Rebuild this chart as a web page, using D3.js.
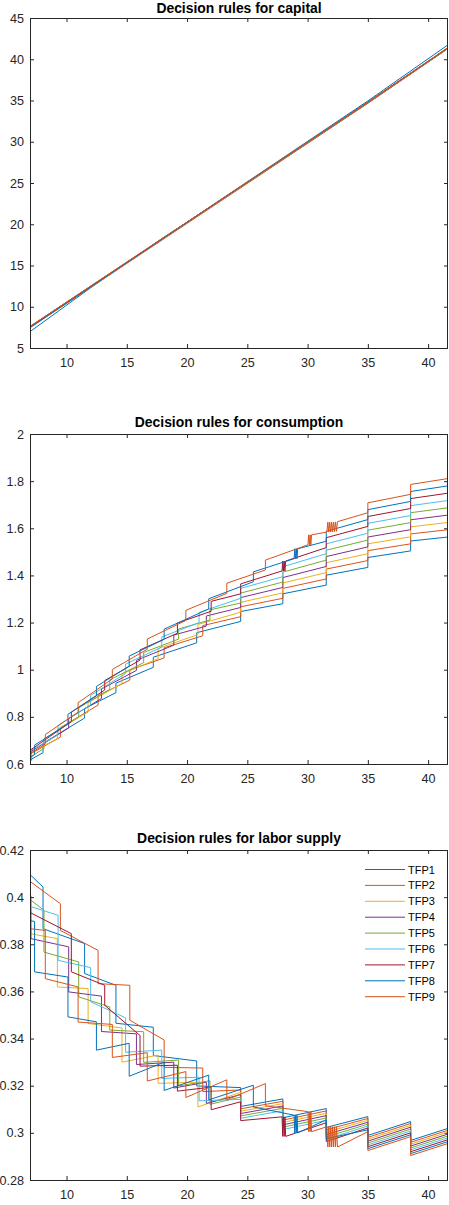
<!DOCTYPE html>
<html>
<head>
<meta charset="utf-8">
<script src="https://cdn.jsdelivr.net/npm/d3@7"></script>
<style>
  body { margin: 0; background: #fff; }
  svg text { font-family: "Liberation Sans", Arial, Helvetica, sans-serif; }
</style>
</head>
<body>
<div id="fig"></div>
<script>
// ---------------------------//
//        DATA                //
// ---------------------------//

var seriesNames = ["TFP1", "TFP2", "TFP3", "TFP4", "TFP5", "TFP6", "TFP7", "TFP8", "TFP9"];
var kDomain = [6.97, 41.65];
var kTicks = [10, 15, 20, 25, 30, 35, 40];
var capTicks = [5, 10, 15, 20, 25, 30, 35, 40, 45];
var consTicks = [0.6, 0.8, 1, 1.2, 1.4, 1.6, 1.8, 2];
var laborTicks = [0.28, 0.3, 0.32, 0.34, 0.36, 0.38, 0.4, 0.42];

// capital: [k, k']
var capTFP1 = [[6.97, 6.98], [12, 12.3], [18, 18.35], [25, 25.0], [35, 34.7], [41.65, 41.3]];
var capTFP2 = [[6.97, 7.45], [15, 15.25], [25, 24.95], [35, 34.65], [41.65, 41.3]];
var capTFP3 = [[6.97, 7.5], [15, 15.3], [25, 25.0], [35, 34.7], [41.65, 41.32]];
var capTFP4 = [[6.97, 7.52], [15, 15.32], [25, 25.02], [35, 34.72], [41.65, 41.34]];
var capTFP5 = [[6.97, 7.55], [15, 15.35], [25, 25.05], [35, 34.75], [41.65, 41.36]];
var capTFP6 = [[6.97, 7.57], [15, 15.37], [25, 25.07], [35, 34.78], [41.65, 41.38]];
var capTFP7 = [[6.97, 7.6], [15, 15.4], [25, 25.1], [35, 34.8], [41.65, 41.4]];
var capTFP8 = [[6.97, 7.5], [15, 15.35], [25, 25.15], [35, 34.95], [41.65, 41.75]];
var capTFP9 = [[6.97, 7.62], [15, 15.42], [25, 25.12], [35, 34.82], [41.65, 41.42]];

// consumption: [k, value before step, value after step]
var consTFP1 = [[6.97,.617,.617],[8.05,.648,.688],[11.5,.795,.835],[14.1,.903,.943],[17.2,1.010,1.053],[20.8,1.114,1.157],[24.45,1.205,1.247],[27.95,1.280,1.322],[31.55,1.359,1.401],[35,1.434,1.476],[38.55,1.504,1.546],[41.65,1.563,1.563]];
var consTFP2 = [[6.97,.642,.642],[9.49,.714,.754],[12.62,.850,.890],[15.25,.956,.999],[18.1,1.050,1.093],[21.3,1.144,1.187],[24.45,1.225,1.267],[27.95,1.303,1.345],[31.55,1.385,1.427],[35,1.463,1.505],[38.55,1.534,1.576],[41.65,1.594,1.594]];
var consTFP3 = [[6.97,.646,.646],[9.24,.708,.748],[11.79,.820,.860],[14.6,.942,.982],[17.6,1.047,1.090],[20.9,1.149,1.192],[24.45,1.244,1.286],[27.95,1.326,1.368],[31.55,1.412,1.454],[35,1.492,1.534],[38.55,1.564,1.606],[41.65,1.625,1.625]];
var consTFP4 = [[6.97,.610,.610],[7.05,.613,.653],[10.18,.753,.793],[12.9,.878,.918],[15.8,.997,1.040],[18.9,1.104,1.147],[21.6,1.185,1.228],[24.45,1.264,1.306],[27.95,1.349,1.391],[31.55,1.438,1.480],[35,1.521,1.563],[38.55,1.594,1.636],[41.65,1.656,1.656]];
var consTFP5 = [[6.97,.629,.629],[8.13,.666,.706],[11.01,.798,.838],[13.59,.917,.957],[16.4,1.030,1.073],[19.3,1.130,1.173],[21.9,1.211,1.254],[24.45,1.283,1.325],[27.95,1.372,1.414],[31.55,1.465,1.507],[35,1.550,1.592],[38.55,1.624,1.666],[41.65,1.687,1.687]];
var consTFP6 = [[6.97,.655,.655],[9.3,.724,.764],[12.0,.851,.891],[14.9,.984,1.024],[17.9,1.096,1.139],[21.0,1.200,1.243],[24.45,1.303,1.345],[27.95,1.395,1.437],[31.55,1.492,1.534],[35,1.579,1.621],[38.55,1.654,1.696],[41.65,1.718,1.718]];
var consTFP7 = [[6.97,.658,.658],[10.4,.780,.820],[13.17,.914,.954],[16.1,1.041,1.084],[19.2,1.155,1.198],[22.0,1.248,1.290],[24.45,1.322,1.364],[27.88,1.419,1.419],[27.94,1.461,1.461],[28.0,1.419,1.419],[28.06,1.461,1.461],[28.12,1.419,1.419],[28.18,1.461,1.461],[31.55,1.518,1.560],[35,1.608,1.650],[38.55,1.684,1.726],[41.65,1.749,1.749]];
var consTFP8 = [[6.97,.627,.627],[7.35,.640,.680],[10.12,.771,.811],[12.48,.889,.929],[15.2,1.015,1.058],[18.1,1.129,1.172],[21.8,1.258,1.301],[25.5,1.373,1.415],[28.88,1.471,1.471],[28.94,1.513,1.513],[29.0,1.471,1.471],[29.06,1.513,1.513],[29.12,1.471,1.471],[29.18,1.513,1.513],[31.55,1.545,1.587],[35,1.637,1.679],[38.55,1.714,1.756],[41.65,1.780,1.780]];
var consTFP9 = [[6.97,.644,.644],[8.24,.685,.725],[10.96,.820,.860],[13.8,.961,1.001],[16.7,1.087,1.130],[19.9,1.209,1.252],[23.3,1.324,1.367],[26.5,1.423,1.465],[30.03,1.530,1.530],[30.09,1.572,1.572],[30.15,1.530,1.530],[30.21,1.572,1.572],[30.27,1.530,1.530],[30.33,1.572,1.572],[31.6,1.584,1.584],[31.68,1.626,1.626],[31.76,1.584,1.584],[31.84,1.626,1.626],[31.92,1.584,1.584],[32.0,1.626,1.626],[32.08,1.585,1.585],[32.16,1.626,1.626],[32.24,1.586,1.586],[32.32,1.627,1.627],[32.4,1.587,1.587],[32.48,1.628,1.628],[35,1.666,1.708],[38.55,1.744,1.786],[41.65,1.811,1.811]];

// labor supply: [k, value before step, value after step]
var laborTFP1 = [[6.97,.4096,.4096],[8.05,.4043,.3866],[11.5,.3803,.3676],[14.1,.3626,.3465],[17.2,.3448,.3328],[20.8,.3305,.3199],[24.45,.3192,.3112],[27.95,.3144,.3064],[31.55,.3103,.3023],[35,.3069,.2989],[38.55,.3048,.2968],[41.65,.3019,.3019]];
var laborTFP2 = [[6.97,.4067,.4067],[9.49,.3972,.3859],[12.62,.3774,.3633],[15.25,.3626,.3478],[18.1,.3394,.3278],[21.3,.3275,.3175],[24.45,.3182,.3102],[27.95,.3134,.3054],[31.55,.3093,.3013],[35,.3061,.2981],[38.55,.3040,.2960],[41.65,.3011,.3011]];
var laborTFP3 = [[6.97,.3845,.3845],[9.24,.3824,.3619],[11.79,.3612,.3464],[14.6,.3445,.3300],[17.6,.3330,.3210],[20.9,.3215,.3110],[24.45,.3172,.3092],[27.95,.3124,.3044],[31.55,.3083,.3003],[35,.3053,.2973],[38.55,.3032,.2952],[41.65,.3003,.3003]];
var laborTFP4 = [[6.97,.4010,.4010],[7.05,.4005,.3824],[10.18,.3789,.3598],[12.9,.3580,.3430],[15.8,.3420,.3290],[18.9,.3300,.3190],[21.6,.3215,.3125],[24.45,.3162,.3082],[27.95,.3114,.3034],[31.55,.3073,.2993],[35,.3045,.2965],[38.55,.3024,.2944],[41.65,.2995,.2995]];
var laborTFP5 = [[6.97,.3990,.3990],[8.13,.3944,.3767],[11.01,.3725,.3577],[13.59,.3534,.3436],[16.4,.3429,.3299],[19.3,.3309,.3199],[21.9,.3221,.3121],[24.45,.3152,.3072],[27.95,.3104,.3024],[31.55,.3063,.2983],[35,.3037,.2957],[38.55,.3016,.2936],[41.65,.2987,.2987]];
var laborTFP6 = [[6.97,.3961,.3961],[9.3,.3923,.3732],[12.0,.3701,.3556],[14.9,.3488,.3342],[17.9,.3351,.3231],[21.0,.3236,.3136],[24.45,.3142,.3062],[27.95,.3094,.3014],[31.55,.3053,.2973],[35,.3029,.2949],[38.55,.3008,.2928],[41.65,.2979,.2979]];
var laborTFP7 = [[6.97,.3935,.3935],[10.4,.3845,.3683],[13.17,.3626,.3541],[16.1,.3413,.3283],[19.2,.3287,.3177],[22.0,.3194,.3098],[24.45,.3132,.3052],[27.88,.3068,.3068],[27.94,.2985,.2985],[28.0,.3068,.3068],[28.06,.2985,.2985],[28.12,.3068,.3068],[28.18,.2985,.2985],[31.55,.3043,.2963],[35,.3021,.2941],[38.55,.3000,.2920],[41.65,.2971,.2971]];
var laborTFP8 = [[6.97,.3900,.3900],[7.35,.3897,.3683],[10.12,.3661,.3492],[12.48,.3471,.3351],[15.2,.3380,.3240],[18.1,.3300,.3180],[21.8,.3245,.3140],[25.5,.3202,.3110],[28.88,.3075,.3075],[28.94,.3000,.3000],[29.0,.3075,.3075],[29.06,.3000,.3000],[29.12,.3075,.3075],[29.18,.3000,.3000],[31.55,.3055,.2975],[35,.3013,.2933],[38.55,.2992,.2912],[41.65,.2963,.2963]];
var laborTFP9 = [[6.97,.3866,.3866],[8.24,.3859,.3654],[10.96,.3619,.3470],[13.8,.3460,.3320],[16.7,.3340,.3220],[19.9,.3260,.3150],[23.3,.3225,.3140],[26.5,.3209,.3115],[30.03,.3090,.3090],[30.09,.3005,.3005],[30.15,.3090,.3090],[30.21,.3005,.3005],[30.27,.3090,.3090],[30.33,.3005,.3005],[31.6,.3026,.3026],[31.68,.2940,.2940],[31.76,.3026,.3026],[31.84,.2940,.2940],[31.92,.3026,.3026],[32.0,.2940,.2940],[32.08,.3026,.3026],[32.16,.2940,.2940],[32.24,.3026,.3026],[32.32,.2940,.2940],[32.4,.3026,.3026],[32.48,.2940,.2940],[35,.3005,.2925],[38.55,.2984,.2904],[41.65,.2955,.2955]];

// ---------------------------//
//        SETUP               //
// ---------------------------//

var W = 449, H = 1205;
var left = 30, right = 448, plotH = 330;
var colors = ["#0072BD", "#D95319", "#EDB120", "#7E2F8E", "#77AC30", "#4DBEEE", "#A2142F", "#0072BD", "#D95319"];
var axisColor = "#262626";
var tickFont = 12.6;

var svg = d3.select("#fig")
  .append("svg")
    .attr("width", W)
    .attr("height", H);

svg.append("rect").attr("width", W).attr("height", H).attr("fill", "#fff");

var x = d3.scaleLinear().domain(kDomain).range([left, right]);

// turn [k, before, after] rows into a step path
function steps(rows) {
  var pts = [];
  rows.forEach(function(r) { pts.push([r[0], r[1]]); pts.push([r[0], r[2]]); });
  return pts;
}

function styleAxis(g) {
  g.select(".domain").remove();
  g.attr("font-size", null).attr("font-family", null);
  g.style("color", axisColor);
  g.selectAll("text").style("font-size", tickFont + "px");
}

function panel(top, titleY, yDomain, yTicks, title, series) {
  var bottom = top + plotH;
  var y = d3.scaleLinear().domain(yDomain).range([bottom, top]);
  var fmt = d3.format("~g");

  // bottom axis
  svg.append("g")
    .attr("transform", "translate(0," + bottom + ")")
    .call(d3.axisBottom(x).tickValues(kTicks).tickSize(-4).tickPadding(10).tickFormat(fmt))
    .call(styleAxis);
  // top axis
  svg.append("g")
    .attr("transform", "translate(0," + top + ")")
    .call(d3.axisTop(x).tickValues(kTicks).tickSize(-4).tickFormat(""))
    .call(styleAxis);
  // left axis
  svg.append("g")
    .attr("transform", "translate(" + left + ",0)")
    .call(d3.axisLeft(y).tickValues(yTicks).tickSize(-4).tickPadding(6).tickFormat(fmt))
    .call(styleAxis);
  // right axis
  svg.append("g")
    .attr("transform", "translate(" + right + ",0)")
    .call(d3.axisRight(y).tickValues(yTicks).tickSize(-4).tickFormat(""))
    .call(styleAxis);

  // lines
  var line = d3.line()
    .x(function(d) { return x(d[0]); })
    .y(function(d) { return y(d[1]); });

  svg.append("g")
    .selectAll("path")
    .data(series)
    .enter()
    .append("path")
      .attr("d", function(d) { return line(d); })
      .attr("fill", "none")
      .attr("stroke", function(d, i) { return colors[i]; })
      .attr("stroke-width", 1);

  // box
  svg.append("rect")
    .attr("x", left + 0.5)
    .attr("y", top + 0.5)
    .attr("width", right - left - 1)
    .attr("height", plotH)
    .attr("fill", "none")
    .attr("stroke", axisColor)
    .attr("stroke-width", 1);

  // title
  svg.append("text")
    .attr("x", (left + right) / 2)
    .attr("y", titleY)
    .attr("text-anchor", "middle")
    .style("font-size", "13.9px")
    .style("font-weight", "bold")
    .style("fill", "#000")
    .text(title);

  return y;
}

// ---------------------------//
//        PANELS              //
// ---------------------------//

panel(18, 13, [5, 45], capTicks, "Decision rules for capital",
  [capTFP1, capTFP2, capTFP3, capTFP4, capTFP5, capTFP6, capTFP7, capTFP8, capTFP9]);

panel(434, 427, [0.6, 2], consTicks, "Decision rules for consumption",
  [consTFP1, consTFP2, consTFP3, consTFP4, consTFP5, consTFP6, consTFP7, consTFP8, consTFP9].map(steps));

panel(850, 843, [0.28, 0.42], laborTicks, "Decision rules for labor supply",
  [laborTFP1, laborTFP2, laborTFP3, laborTFP4, laborTFP5, laborTFP6, laborTFP7, laborTFP8, laborTFP9].map(steps));

// ---------------------------//
//        LEGEND              //
// ---------------------------//

var legY0 = 869.5, legStep = 15.9;
var leg = svg.append("g");
leg.selectAll("line")
  .data(seriesNames)
  .enter()
  .append("line")
    .attr("x1", 365)
    .attr("x2", 405)
    .attr("y1", function(d, i) { return legY0 + i * legStep; })
    .attr("y2", function(d, i) { return legY0 + i * legStep; })
    .attr("stroke", function(d, i) { return colors[i]; })
    .attr("stroke-width", 1);
leg.selectAll("text")
  .data(seriesNames)
  .enter()
  .append("text")
    .attr("x", 408)
    .attr("y", function(d, i) { return legY0 + i * legStep + 4; })
    .style("font-size", "11px")
    .style("fill", "#000")
    .text(function(d) { return d; });
</script>
</body>
</html>
